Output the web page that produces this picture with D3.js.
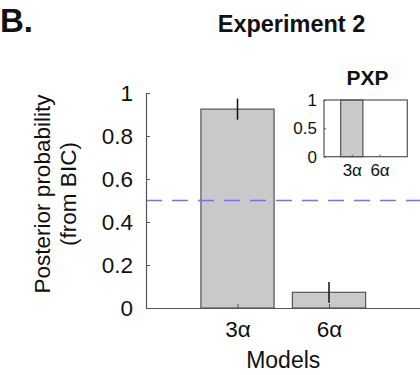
<!DOCTYPE html>
<html>
<head>
<meta charset="utf-8">
<script src="https://cdn.jsdelivr.net/npm/d3@7"></script>
<style>
  body { margin: 0; background: #fff; }
  svg text { font-family: "Liberation Sans", Arial, sans-serif; fill: #111; }
</style>
</head>
<body>
<div class="container"></div>
<script>
// data
const models = ["3α", "6α"];
const posterior = [0.925, 0.073];
const posteriorErr = [0.049, 0.048];
const pxp = [1, 0];
const yTicks = [0, 0.2, 0.4, 0.6, 0.8, 1];
const pxpTicks = [0, 0.5, 1];
const chance = 0.5;

const width = 420;
const height = 375;

const svg = d3
  .select(".container")
  .append("svg")
  .attr("width", width)
  .attr("height", height);

// main axes (xlim 0..3, ylim 0..1 like the matlab plot)
const x = d3.scaleLinear().domain([0, 3]).range([146, 420.5]);
const y = d3.scaleLinear().domain([0, 1]).range([308, 93]);
const barW = 0.8;

const main = svg.append("g");

main
  .selectAll("rect.bar")
  .data(posterior)
  .join("rect")
  .attr("class", "bar")
  .attr("x", (d, i) => x(i + 1 - barW / 2))
  .attr("width", x(barW) - x(0))
  .attr("y", (d) => y(d))
  .attr("height", (d) => y(0) - y(d))
  .attr("fill", "#c9c9c9")
  .attr("stroke", "#555")
  .attr("stroke-width", 1.2);

// error bars, no caps
main
  .selectAll("line.err")
  .data(posterior)
  .join("line")
  .attr("class", "err")
  .attr("x1", (d, i) => x(i + 1))
  .attr("x2", (d, i) => x(i + 1))
  .attr("y1", (d, i) => y(d + posteriorErr[i]))
  .attr("y2", (d, i) => y(d - posteriorErr[i]))
  .attr("stroke", "#111")
  .attr("stroke-width", 1.5);

// chance level
main
  .append("line")
  .attr("x1", x(0))
  .attr("x2", width)
  .attr("y1", y(chance))
  .attr("y2", y(chance))
  .attr("stroke", "#7474ee")
  .attr("stroke-width", 1.6)
  .attr("stroke-dasharray", "16,10");

const yAxis = main
  .append("g")
  .attr("transform", `translate(${x(0)},0)`)
  .call(
    d3.axisLeft(y)
      .tickValues(yTicks)
      .tickFormat(d3.format("~g"))
      .tickSizeInner(-4)
      .tickSizeOuter(0)
      .tickPadding(13)
  );

const xAxis = main
  .append("g")
  .attr("transform", `translate(0,${y(0)})`)
  .call(
    d3.axisBottom(x)
      .tickValues(models.map((d, i) => i + 1))
      .tickFormat((d) => models[d - 1])
      .tickSizeInner(-4)
      .tickSizeOuter(0)
      .tickPadding(13)
  );

[yAxis, xAxis].forEach((a) => {
  a.select(".domain").attr("stroke", "#555").attr("stroke-width", 1.2);
  a.selectAll(".tick line").attr("stroke", "#555");
  a.selectAll(".tick text").style("font-size", "22.5px").attr("fill", "#111");
});

// labels
main
  .append("text")
  .attr("x", (x(0) + x(3)) / 2)
  .attr("y", 368)
  .attr("text-anchor", "middle")
  .style("font-size", "23px")
  .text("Models");

const yLab = main
  .append("text")
  .attr("transform", "translate(50,194) rotate(-90)")
  .attr("text-anchor", "middle")
  .style("font-size", "22.5px");
yLab.append("tspan").attr("x", 0).attr("y", 0).text("Posterior probability");
yLab.append("tspan").attr("x", 0).attr("y", 25.5).text("(from BIC)");

svg
  .append("text")
  .attr("x", 291.5)
  .attr("y", 31.5)
  .attr("text-anchor", "middle")
  .style("font-size", "23.5px")
  .style("font-weight", "bold")
  .text("Experiment 2");

svg
  .append("text")
  .attr("x", 0)
  .attr("y", 31.5)
  .style("font-size", "33px")
  .style("font-weight", "bold")
  .text("B.");

// PXP inset
const ix = d3.scaleLinear().domain([0, 3]).range([324, 407.3]);
const iy = d3.scaleLinear().domain([0, 1]).range([156.7, 100]);
const inset = svg.append("g");

inset
  .append("rect")
  .attr("x", ix(0))
  .attr("y", iy(1))
  .attr("width", ix(3) - ix(0))
  .attr("height", iy(0) - iy(1))
  .attr("fill", "#fff");

inset
  .selectAll("rect.pxp")
  .data(pxp)
  .join("rect")
  .attr("class", "pxp")
  .attr("x", (d, i) => ix(i + 1 - barW / 2))
  .attr("width", ix(barW) - ix(0))
  .attr("y", (d) => iy(d))
  .attr("height", (d) => iy(0) - iy(d))
  .attr("fill", "#c9c9c9")
  .attr("stroke", "#555")
  .attr("stroke-width", 1.2);

const iyAxis = inset
  .append("g")
  .attr("transform", `translate(${ix(0)},0)`)
  .call(
    d3.axisLeft(iy)
      .tickValues(pxpTicks)
      .tickFormat(d3.format("~g"))
      .tickSizeInner(-2)
      .tickSizeOuter(0)
      .tickPadding(7)
  );

const ixAxis = inset
  .append("g")
  .attr("transform", `translate(0,${iy(0)})`)
  .call(
    d3.axisBottom(ix)
      .tickValues(models.map((d, i) => i + 1))
      .tickFormat((d) => models[d - 1])
      .tickSizeInner(-2)
      .tickSizeOuter(0)
      .tickPadding(7)
  );

[iyAxis, ixAxis].forEach((a) => {
  a.select(".domain").remove();
  a.selectAll(".tick line").attr("stroke", "#555");
  a.selectAll(".tick text").style("font-size", "17px").attr("fill", "#111");
});

// box around the inset
inset
  .append("rect")
  .attr("x", ix(0))
  .attr("y", iy(1))
  .attr("width", ix(3) - ix(0))
  .attr("height", iy(0) - iy(1))
  .attr("fill", "none")
  .attr("stroke", "#555")
  .attr("stroke-width", 1.2);

inset
  .append("text")
  .attr("x", 367.5)
  .attr("y", 85)
  .attr("text-anchor", "middle")
  .style("font-size", "21px")
  .style("font-weight", "bold")
  .text("PXP");
</script>
</body>
</html>
